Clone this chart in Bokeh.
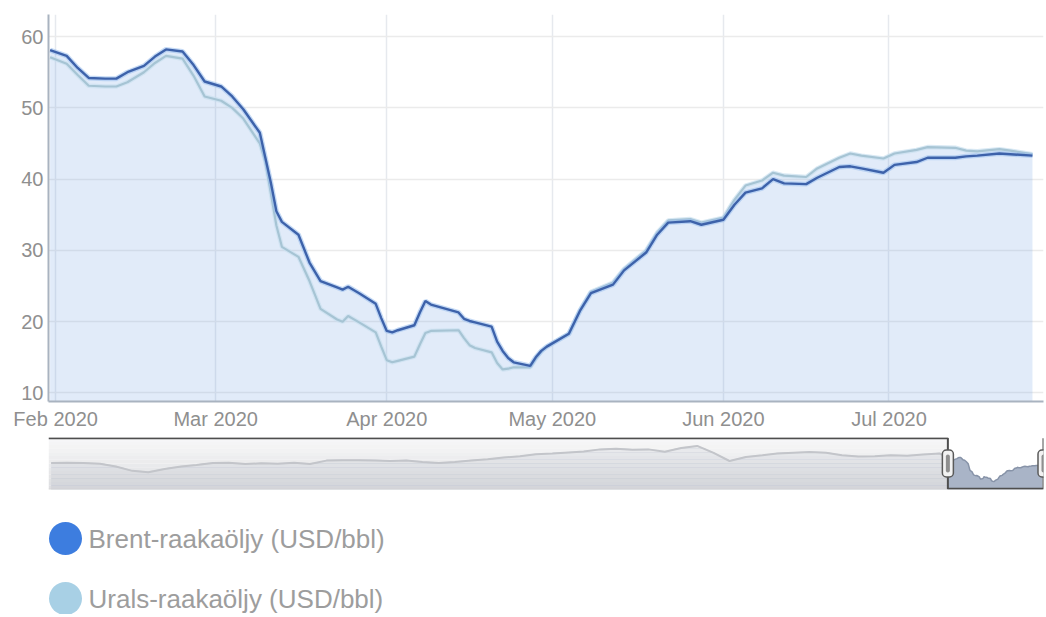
import numpy as np
import pandas as pd
from bokeh.plotting import figure
from bokeh.layouts import column
from bokeh.models import Range1d, FixedTicker, ColumnDataSource
from bokeh.core.properties import value
from bokeh.embed import file_html
from bokeh.resources import INLINE

# ---------------- data ----------------
dates = ["2020-01-31", "2020-02-03", "2020-02-05", "2020-02-07", "2020-02-10", "2020-02-12",
         "2020-02-14", "2020-02-17", "2020-02-19", "2020-02-21", "2020-02-24", "2020-02-26",
         "2020-02-28", "2020-03-02", "2020-03-04", "2020-03-06", "2020-03-09", "2020-03-10",
         "2020-03-11", "2020-03-12", "2020-03-13", "2020-03-16", "2020-03-18", "2020-03-20",
         "2020-03-23", "2020-03-24", "2020-03-25", "2020-03-27", "2020-03-30", "2020-03-31",
         "2020-04-01", "2020-04-02", "2020-04-03", "2020-04-06", "2020-04-07", "2020-04-08",
         "2020-04-09", "2020-04-14", "2020-04-15", "2020-04-16", "2020-04-17", "2020-04-20",
         "2020-04-21", "2020-04-22", "2020-04-23", "2020-04-24", "2020-04-27", "2020-04-28",
         "2020-04-29", "2020-04-30", "2020-05-04", "2020-05-06", "2020-05-08", "2020-05-12",
         "2020-05-14", "2020-05-18", "2020-05-20", "2020-05-22", "2020-05-26", "2020-05-28",
         "2020-06-01", "2020-06-03", "2020-06-05", "2020-06-08", "2020-06-10", "2020-06-12",
         "2020-06-16", "2020-06-18", "2020-06-22", "2020-06-24", "2020-06-26", "2020-06-30",
         "2020-07-02", "2020-07-06", "2020-07-08", "2020-07-13", "2020-07-15", "2020-07-17",
         "2020-07-21", "2020-07-23", "2020-07-27"]

brent = [58.1, 57.3, 55.6, 54.2, 54.1, 54.1, 55.0, 55.9, 57.2, 58.2, 57.9, 56.0,
         53.7, 53.0, 51.6, 49.8, 46.5, 43.0, 39.5, 35.5, 34.0, 32.2, 28.3, 25.7,
         24.8, 24.5, 24.9, 24.0, 22.5, 20.5, 18.7, 18.5, 18.8, 19.5, 21.3, 22.9,
         22.4, 21.3, 20.4, 20.1, 19.9, 19.3, 17.2, 15.9, 14.9, 14.3, 13.8, 15.0,
         15.9, 16.5, 18.3, 21.5, 24.0, 25.2, 27.2, 29.7, 32.2, 33.9, 34.1, 33.6,
         34.3, 36.4, 38.1, 38.7, 40.0, 39.4, 39.3, 40.2, 41.7, 41.8, 41.5, 40.9,
         42.0, 42.4, 43.0, 43.0, 43.2, 43.3, 43.6, 43.5, 43.3]

urals = [57.1, 56.2, 54.6, 53.1, 53.0, 53.0, 53.6, 55.0, 56.3, 57.3, 56.9, 54.5,
         51.6, 51.0, 50.0, 48.5, 45.0, 42.5, 38.0, 33.5, 30.5, 29.1, 25.7, 21.8,
         20.3, 20.0, 20.8, 19.9, 18.5, 16.5, 14.6, 14.3, 14.5, 15.1, 16.8, 18.4,
         18.7, 18.8, 17.7, 16.7, 16.3, 15.7, 14.2, 13.3, 13.4, 13.6, 13.6, 14.8,
         15.8, 16.5, 18.3, 21.6, 24.2, 25.5, 27.4, 30.0, 32.5, 34.2, 34.4, 33.9,
         34.6, 37.1, 39.1, 39.8, 40.9, 40.5, 40.3, 41.5, 43.0, 43.6, 43.3, 42.9,
         43.6, 44.1, 44.5, 44.4, 44.0, 43.9, 44.2, 44.0, 43.5]

tick_dates = ["2020-02-01", "2020-03-01", "2020-04-01", "2020-05-01", "2020-06-01", "2020-07-01"]
tick_labels = ["Feb 2020", "Mar 2020", "Apr 2020", "May 2020", "Jun 2020", "Jul 2020"]
y_ticks = [10, 20, 30, 40, 50, 60]

# navigator history (Brent, monthly, read from the navigator strip)
nav_dates = ["2015-06-15", "2015-07-15", "2015-08-15", "2015-09-15", "2015-10-15", "2015-11-15",
             "2015-12-15", "2016-01-15", "2016-02-15", "2016-03-15", "2016-04-15", "2016-05-15",
             "2016-06-15", "2016-07-15", "2016-08-15", "2016-09-15", "2016-10-15", "2016-11-15",
             "2016-12-15", "2017-01-15", "2017-02-15", "2017-03-15", "2017-04-15", "2017-05-15",
             "2017-06-15", "2017-07-15", "2017-08-15", "2017-09-15", "2017-10-15", "2017-11-15",
             "2017-12-15", "2018-01-15", "2018-02-15", "2018-03-15", "2018-04-15", "2018-05-15",
             "2018-06-15", "2018-07-15", "2018-08-15", "2018-09-15", "2018-10-15", "2018-11-15",
             "2018-12-15", "2019-01-15", "2019-02-15", "2019-03-15", "2019-04-15", "2019-05-15",
             "2019-06-15", "2019-07-15", "2019-08-15", "2019-09-15", "2019-10-15", "2019-11-15",
             "2019-12-15", "2020-01-15"]
nav_values = [47.9, 48.5, 47.9, 46.7, 41.5, 33.5, 31.0, 37.0, 41.5, 44.2, 48.0, 48.5,
              46.1, 47.3, 46.7, 48.5, 46.1, 52.3, 52.9, 52.9, 52.3, 51.6, 52.3, 49.8,
              47.9, 49.8, 52.3, 54.8, 57.9, 60.4, 64.1, 65.3, 67.3, 69.1, 72.9, 74.1,
              72.3, 72.9, 68.5, 75.4, 79.2, 66.6, 51.6, 59.1, 62.3, 65.3, 66.6, 67.9,
              66.6, 62.3, 59.8, 60.4, 62.3, 61.1, 63.5, 65.3]

legend_labels = ["Brent-raakaöljy (USD/bbl)", "Urals-raakaöljy (USD/bbl)"]
legend_colors = ["#3d7ddf", "#a8d0e5"]

# ---------------- styling constants ----------------
FONT = "Liberation Sans"
LABEL_COLOR = "#8f8f8f"

x_start = pd.Timestamp("2020-01-30 17:00")
x_end = pd.Timestamp("2020-07-29 00:00")
nav_start = pd.Timestamp("2015-06-10")

d = pd.to_datetime(dates)
b = np.array(brent)
u = np.array(urals)
src = ColumnDataSource(dict(x=d, brent=b, urals=u, top=np.maximum(b, u), base=np.zeros(len(b))))

# ---------------- main chart ----------------
p = figure(frame_width=995, frame_height=387, x_axis_type="datetime",
           x_range=Range1d(x_start, x_end), y_range=Range1d(8.8, 63.1),
           output_backend="svg", toolbar_location=None,
           min_border_left=48, min_border_right=3, min_border_top=14, min_border_bottom=30)
p.outline_line_color = None
p.background_fill_color = "white"

p.varea(x="x", y1="base", y2="top", source=src, fill_color="#6a9de0", fill_alpha=0.2)
p.line(x="x", y="urals", source=src, line_color="#c9e0f0", line_width=4.5, line_alpha=0.7)
p.line(x="x", y="urals", source=src, line_color="#a6c4d4", line_width=2.2)
p.line(x="x", y="brent", source=src, line_color="#9fc1ee", line_width=5, line_alpha=0.6)
p.line(x="x", y="brent", source=src, line_color="#3d62aa", line_width=2.4)

tick_ms = [pd.Timestamp(t).value / 1e6 for t in tick_dates]
p.xaxis.ticker = FixedTicker(ticks=tick_ms)
p.xaxis.major_label_overrides = {t: lab for t, lab in zip(tick_ms, tick_labels)}
p.yaxis.ticker = FixedTicker(ticks=y_ticks)

for ax in (p.xaxis[0], p.yaxis[0]):
    ax.axis_line_color = "#a9b3c0"
    ax.axis_line_width = 2
    ax.major_tick_line_color = None
    ax.minor_tick_line_color = None
    ax.major_tick_out = 0
    ax.major_tick_in = 0
    ax.minor_tick_out = 0
    ax.major_label_text_font = FONT
    ax.major_label_text_font_size = "20px"
    ax.major_label_text_color = LABEL_COLOR
p.xaxis.major_label_standoff = 6
p.yaxis.major_label_standoff = 5

p.xgrid.grid_line_color = "#e6e9ee"
p.xgrid.grid_line_width = 1.5
p.ygrid.grid_line_color = "#ebebeb"
p.ygrid.grid_line_width = 1.5

# ---------------- navigator ----------------
NAV_LO, NAV_HI = -0.7, 94.7
nav = figure(frame_width=995, frame_height=52, x_axis_type="datetime",
             x_range=Range1d(nav_start, x_end), y_range=Range1d(NAV_LO, NAV_HI),
             output_backend="svg", toolbar_location=None,
             x_axis_location=None, y_axis_location=None,
             min_border_left=48, min_border_right=3, min_border_top=5, min_border_bottom=13)
nav.outline_line_color = None
nav.grid.visible = False

nd = list(pd.to_datetime(nav_dates)) + list(d)
nv = np.array(nav_values + brent)
nsrc = ColumnDataSource(dict(x=nd, y=nv, base=np.full(len(nv), NAV_LO)))
nav.varea(x="x", y1="base", y2="y", source=nsrc, fill_color="#a9b4c7")
nav.line(x="x", y="y", source=nsrc, line_color="#8793a8", line_width=1.5)

# mask over the unselected part (vertical gradient as bands)
n_bands = 14
edges = np.linspace(NAV_LO, NAV_HI, n_bands + 1)
c_bot = np.array([0xd8, 0xd9, 0xdc])
c_top = np.array([0xf8, 0xf8, 0xf8])
band_cols = []
for i in range(n_bands):
    t = (i + 0.5) / n_bands
    c = (c_bot * (1 - t) + c_top * t).astype(int)
    band_cols.append("#%02x%02x%02x" % tuple(c))
nav.quad(left=[nav_start] * n_bands, right=[x_start] * n_bands,
         bottom=edges[:-1], top=edges[1:], fill_color=band_cols, fill_alpha=0.88, line_color=None)
hist_x = [t for t in nd if t <= x_start] + [d[0]]
hist_y = [v for t, v in zip(nd, nv) if t <= x_start] + [brent[0]]
nav.line(x=hist_x, y=hist_y, line_color="#c3c5ca", line_width=2)

# outline of navigator
nav.line(x=[nav_start, x_start], y=[NAV_LO + 0.6, NAV_LO + 0.6], line_color="#d0d0d0", line_width=1)
nav.line(x=[nav_start, x_start, x_start, x_end, x_end],
         y=[NAV_HI - 1.2, NAV_HI - 1.2, NAV_LO + 1.2, NAV_LO + 1.2, NAV_HI - 1.2],
         line_color="#4e4e4e", line_width=2)

# handles
hy = 47.0
nav.rect(x=[x_start, x_end], y=[hy, hy], width=11, height=27,
         width_units="screen", height_units="screen",
         fill_color="#f2f2f2", line_color="#5a5a5a", line_width=1.5, border_radius=4)
nav.rect(x=[x_start, x_end], y=[hy, hy], width=4, height=18,
         width_units="screen", height_units="screen",
         fill_color="#8f8f8f", line_color=None, border_radius=2)

# ---------------- legend ----------------
LEG_H = 112
leg = figure(frame_width=995, frame_height=LEG_H, x_range=Range1d(48, 1043),
             y_range=Range1d(LEG_H, 0), output_backend="svg", toolbar_location=None,
             x_axis_location=None, y_axis_location=None,
             min_border_left=48, min_border_right=3, min_border_top=0, min_border_bottom=0)
leg.outline_line_color = None
leg.grid.visible = False
ly = [36 + 60 * i for i in range(len(legend_labels))]
leg.scatter(x=[65] * len(ly), y=ly, size=33, fill_color=legend_colors, line_color=None)
leg.text(x=[88] * len(ly), y=ly, text=legend_labels, text_font=value(FONT),
         text_font_size="26px", text_color="#9d9d9d", text_baseline="middle", text_align="left")

layout = column(p, nav, leg, spacing=0)
open("out.html", "w").write(file_html(layout, INLINE))
